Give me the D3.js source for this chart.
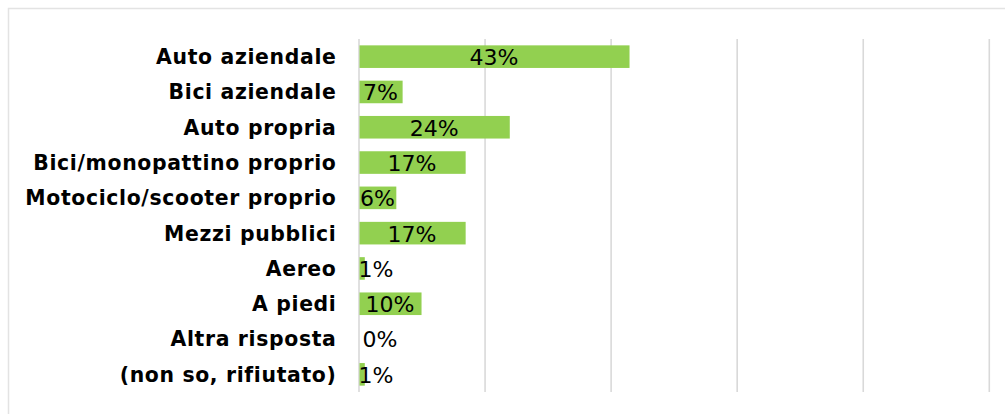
<!DOCTYPE html>
<html>
<head>
<meta charset="utf-8">
<script src="https://cdn.jsdelivr.net/npm/d3@7"></script>
<style>
  html, body { margin: 0; padding: 0; background: #ffffff; }
  svg { display: block; }
</style>
</head>
<body>
<svg id="chart" width="1005" height="414"></svg>
<script>
// Mode of transport shares
const categories = [
  "Auto aziendale",
  "Bici aziendale",
  "Auto propria",
  "Bici/monopattino proprio",
  "Motociclo/scooter proprio",
  "Mezzi pubblici",
  "Aereo",
  "A piedi",
  "Altra risposta",
  "(non so, rifiutato)"
];
const values = [43, 7, 24, 17, 6, 17, 1, 10, 0, 1];
const tickValues = [0, 20, 40, 60, 80, 100];

const svg = d3.select("#chart");
const W = 1005, H = 414;

// outer frame of the chart area
svg.append("rect")
  .attr("x", 8.5).attr("y", 8.5)
  .attr("width", W + 10).attr("height", H + 10)
  .attr("fill", "#ffffff")
  .attr("stroke", "#e3e3e3")
  .attr("stroke-width", 1.5);

const plot = { left: 358.5, right: 988.8, top: 39, bottom: 392 };

const x = d3.scaleLinear().domain([0, 100]).range([plot.left, plot.right]);
const y = d3.scaleBand()
  .domain(categories)
  .range([plot.top, plot.bottom])
  .paddingInner(0.36)
  .paddingOuter(0.18);

// vertical gridlines
const grid = d3.axisBottom(x)
  .tickValues(tickValues)
  .tickSize(-(plot.bottom - plot.top))
  .tickFormat("");
svg.append("g")
  .attr("transform", `translate(0,${plot.bottom})`)
  .call(grid)
  .call(g => g.select(".domain").remove())
  .call(g => g.selectAll(".tick line")
    .attr("stroke", "#d9d9d9")
    .attr("stroke-width", 1.6));

// bars
svg.append("g")
  .selectAll("rect")
  .data(values)
  .join("rect")
  .attr("x", x(0) + 1)
  .attr("y", (d, i) => y(categories[i]))
  .attr("width", d => Math.max(0, x(d) - x(0) - 1))
  .attr("height", y.bandwidth())
  .attr("fill", "#92d050");

// category labels
const yAxis = d3.axisLeft(y).tickSize(0).tickPadding(22);
svg.append("g")
  .attr("transform", `translate(${plot.left},0)`)
  .call(yAxis)
  .call(g => g.select(".domain").remove())
  .call(g => g.selectAll(".tick text")
    .attr("font-family", "'DejaVu Sans', Verdana, sans-serif")
    .attr("font-size", 20.4)
    .attr("font-weight", "bold")
    .attr("letter-spacing", 0.65)
    .attr("fill", "#000000")
    .attr("dy", "0.36em"));

// value labels: centred on the bar, pushed right when the bar is too short
const labels = svg.append("g")
  .selectAll("text")
  .data(values)
  .join("text")
  .attr("font-family", "'DejaVu Sans', Verdana, sans-serif")
  .attr("font-size", 22)
  .attr("fill", "#000000")
  .attr("y", (d, i) => y(categories[i]) + y.bandwidth() / 2)
  .attr("dy", "0.38em")
  .text(d => d + "%");

labels.each(function (d) {
  const w = this.getComputedTextLength();
  const centre = (x(0) + x(d)) / 2;
  let start = Math.max(centre - w / 2, x(0));
  if (d === 0) start = x(0) + 4;
  d3.select(this).attr("x", start);
});
</script>
</body>
</html>
